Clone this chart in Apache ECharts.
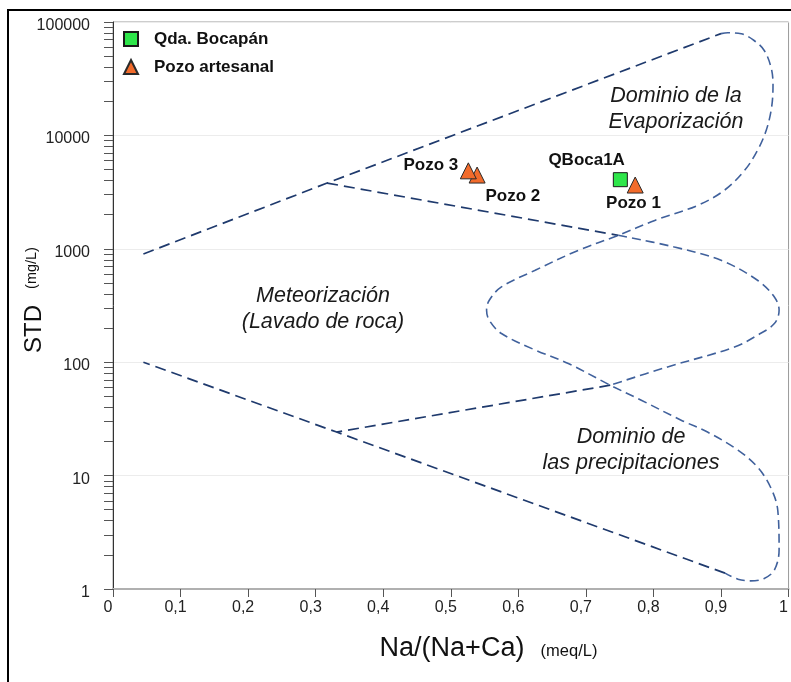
<!DOCTYPE html>
<html>
<head>
<meta charset="utf-8">
<script src="https://cdn.jsdelivr.net/npm/echarts@6/dist/echarts.min.js"></script>
<style>
  html, body { margin: 0; padding: 0; background: #ffffff; }
  #chart { width: 791px; height: 682px; }
</style>
</head>
<body>
<div id="chart"></div>
<script>
// Gibbs diagram: TDS (mg/L) against Na/(Na+Ca) (meq/L)

// Sample points
const wellNames = ['Pozo 1', 'Pozo 2', 'Pozo 3'];
const wellRatio = [0.773, 0.539, 0.526];
const wellTDS = [3650, 4470, 4870];

const streamNames = ['QBoca1A'];
const streamRatio = [0.751];
const streamTDS = [4070];

// Straight boundary limbs [Na/(Na+Ca), TDS]
const upperLimb = [[0.045, 900], [0.317, 3800], [0.900, 79000]];
const middleUpperLimb = [[0.317, 3800], [0.748, 1315]];
const middleLowerLimb = [[0.736, 62.7], [0.331, 24.2]];
const lowerLimb = [[0.906, 1.38], [0.331, 24.2], [0.045, 100]];

// Curved boundary: evaporation lobe down through the precipitation lobe
const outerCurve = [
  [0.900, 79000], [0.910, 80300], [0.930, 78700], [0.949, 68700], [0.964, 56100],
  [0.974, 40000], [0.977, 28500], [0.975, 17800], [0.967, 11100], [0.954, 7380],
  [0.935, 4920], [0.905, 3280], [0.866, 2420], [0.802, 1780], [0.748, 1315],
  [0.689, 970], [0.625, 647], [0.575, 461], [0.557, 352], [0.553, 287],
  [0.557, 234], [0.575, 179], [0.625, 128], [0.674, 97.4], [0.736, 62.7],
  [0.782, 46.2], [0.841, 30.8], [0.880, 24.2], [0.925, 16.8], [0.954, 11.9],
  [0.973, 7.97], [0.984, 4.97], [0.986, 2.21], [0.979, 1.47], [0.964, 1.24],
  [0.944, 1.18], [0.925, 1.22], [0.906, 1.38]
];

// Curved boundary: closing loop of the middle limbs
const innerCurve = [
  [0.748, 1315], [0.831, 1037], [0.900, 792], [0.954, 528], [0.979, 376],
  [0.986, 287], [0.979, 219], [0.954, 173], [0.920, 136], [0.821, 90.9],
  [0.736, 62.7]
];

// Axis ticks
const xTickLabels = ['0', '0,1', '0,2', '0,3', '0,4', '0,5', '0,6', '0,7', '0,8', '0,9', '1'];
const decades = [1, 10, 100, 1000, 10000];
const yMinorTicks = [];
decades.forEach(d => { for (let k = 1; k < 10; k++) yMinorTicks.push(k * d); });
yMinorTicks.push(100000);

const FONT = '"Liberation Sans", Arial, Helvetica, sans-serif';
const DARK = '#1f3a6d';
const LIGHT = '#40619c';

const wellLabelOffsets = [[-1.7, 18.6], [35.8, 21.3], [-37.5, -6]];
const streamLabelOffsets = [[-33.7, -19.8]];

function limb(data) {
  return {
    type: 'line', data: data, symbol: 'none', silent: true, z: 2,
    lineStyle: { color: DARK, width: 1.7, type: [11, 6] }
  };
}
function curve(data) {
  return {
    type: 'line', data: data, symbol: 'none', silent: true, smooth: 0.35, z: 2,
    lineStyle: { color: LIGHT, width: 1.6, type: [9, 5] }
  };
}

const pointLabel = {
  show: true, position: 'inside', formatter: p => p.name,
  fontFamily: FONT, fontWeight: 'bold', fontSize: 17, color: '#111111',
  textBorderWidth: 0
};

const chart = echarts.init(document.getElementById('chart'), null, { renderer: 'canvas' });

chart.setOption({
  backgroundColor: '#ffffff',
  animation: false,
  textStyle: { fontFamily: FONT },
  grid: {
    left: 113, right: 0, top: 22, bottom: 93,
    show: true, borderColor: '#9a9a9a', borderWidth: 1, backgroundColor: 'transparent'
  },
  legend: {
    orient: 'vertical', left: 123, top: 29, padding: 0,
    itemWidth: 14, itemHeight: 14, itemGap: 8,
    data: ['Qda. Bocapán', 'Pozo artesanal'],
    textStyle: {
      fontFamily: FONT, fontWeight: 'bold', fontSize: 17, color: '#111111',
      lineHeight: 20, padding: [0, 0, 0, 11]
    }
  },
  xAxis: {
    type: 'value', min: 0, max: 1, interval: 0.1,
    axisLine: { show: true, lineStyle: { color: '#b0b0b0', width: 2 } },
    axisTick: { show: true, length: 8, lineStyle: { color: '#555555', width: 1 } },
    axisLabel: {
      margin: 11, fontSize: 16, color: '#222222', fontFamily: FONT,
      padding: [0, 10, 0, 0],
      formatter: (v) => xTickLabels[Math.round(v * 10)]
    },
    splitLine: { show: false }
  },
  yAxis: [
    {
      type: 'log', logBase: 10, min: 1, max: 100000,
      axisLine: { show: true, lineStyle: { color: '#333333', width: 1 } },
      axisTick: { show: false },
      axisLabel: {
        margin: 23, color: '#222222', fontFamily: FONT,
        formatter: (v) => '{v|' + String(Math.round(v)) + '}',
        rich: { v: { fontSize: 16, fontFamily: FONT, color: '#222222', padding: [7, 0, 0, 0] } }
      },
      splitLine: { show: true, lineStyle: { color: '#ececec', width: 1 } }
    },
    {
      type: 'log', logBase: 10, min: 1, max: 100000, position: 'left',
      axisLine: { show: false },
      axisLabel: { show: false },
      splitLine: { show: false },
      axisTick: {
        show: true, length: 9, customValues: yMinorTicks,
        lineStyle: { color: '#555555', width: 1 }
      }
    }
  ],
  series: [
    limb(upperLimb),
    limb(middleUpperLimb),
    limb(middleLowerLimb),
    limb(lowerLimb),
    curve(outerCurve),
    curve(innerCurve),
    {
      name: 'Qda. Bocapán', type: 'scatter', symbol: 'rect', symbolSize: 14, z: 5,
      itemStyle: { color: '#2ee64a', borderColor: '#1a1a1a', borderWidth: 1, opacity: 1 },
      label: pointLabel,
      data: streamNames.map((n, i) => ({
        name: n, value: [streamRatio[i], streamTDS[i]],
        label: { offset: streamLabelOffsets[i] }
      }))
    },
    {
      name: 'Pozo artesanal', type: 'scatter', symbol: 'triangle', symbolSize: 16, z: 5,
      itemStyle: { color: '#f26b2b', borderColor: '#2a2a2a', borderWidth: 1, opacity: 1 },
      label: pointLabel,
      data: wellNames.map((n, i) => ({
        name: n, value: [wellRatio[i], wellTDS[i]],
        label: { offset: wellLabelOffsets[i] }
      }))
    }
  ],
  graphic: [
    {
      type: 'rect', silent: true, z: 0,
      shape: { x: 8, y: 10, width: 900, height: 900 },
      style: { fill: 'none', stroke: '#000000', lineWidth: 2 }
    },
    {
      type: 'text', x: 34, y: 329, rotation: Math.PI / 2, silent: true,
      style: { text: 'STD', fontFamily: FONT, fontSize: 24, fill: '#111111', align: 'center', verticalAlign: 'middle' }
    },
    {
      type: 'text', x: 32, y: 268, rotation: Math.PI / 2, silent: true,
      style: { text: '(mg/L)', fontFamily: FONT, fontSize: 14.5, fill: '#111111', align: 'center', verticalAlign: 'middle' }
    },
    {
      type: 'text', x: 452, y: 649, silent: true,
      style: { text: 'Na/(Na+Ca)', fontFamily: FONT, fontSize: 27, fill: '#111111', align: 'center', verticalAlign: 'middle' }
    },
    {
      type: 'text', x: 569, y: 651, silent: true,
      style: { text: '(meq/L)', fontFamily: FONT, fontSize: 16.5, fill: '#111111', align: 'center', verticalAlign: 'middle' }
    },
    {
      type: 'text', x: 676, y: 109, silent: true,
      style: { text: 'Dominio de la\nEvaporización', fontFamily: FONT, fontStyle: 'italic', fontSize: 21.5, lineHeight: 26, fill: '#1a1a1a', align: 'center', verticalAlign: 'middle' }
    },
    {
      type: 'text', x: 323, y: 309, silent: true,
      style: { text: 'Meteorización\n(Lavado de roca)', fontFamily: FONT, fontStyle: 'italic', fontSize: 21.5, lineHeight: 26, fill: '#1a1a1a', align: 'center', verticalAlign: 'middle' }
    },
    {
      type: 'text', x: 631, y: 450, silent: true,
      style: { text: 'Dominio de\nlas precipitaciones', fontFamily: FONT, fontStyle: 'italic', fontSize: 21.5, lineHeight: 26, fill: '#1a1a1a', align: 'center', verticalAlign: 'middle' }
    }
  ]
});
</script>
</body>
</html>
